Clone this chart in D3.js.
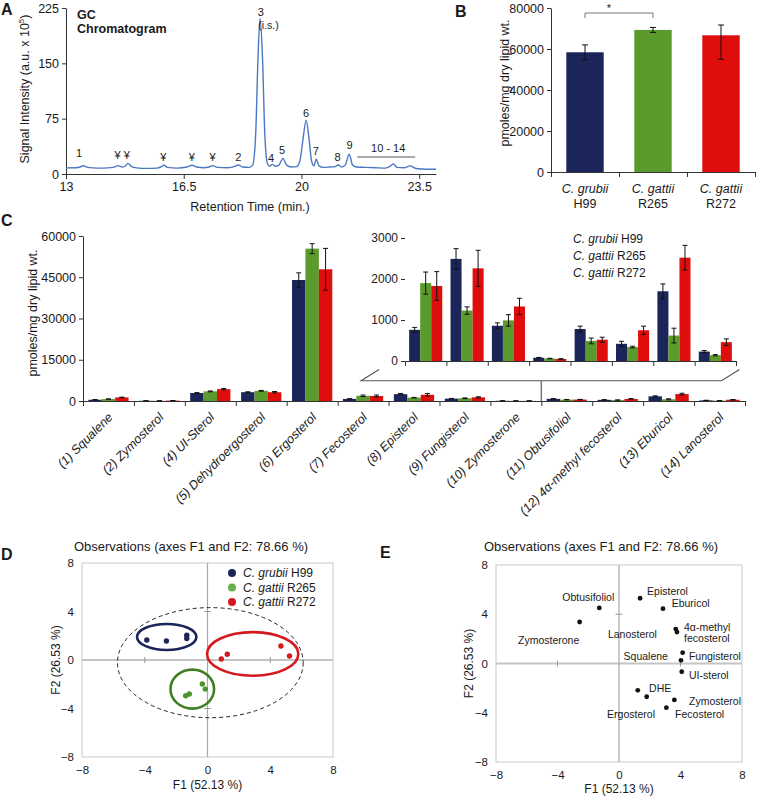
<!DOCTYPE html>
<html><head><meta charset="utf-8">
<script src="https://cdn.jsdelivr.net/npm/d3@7"></script>
<style>
body{margin:0;background:#fff}
svg{display:block;background:#fff}
text{font-family:"Liberation Sans",Arial,sans-serif;fill:#1a1a1a}
</style></head><body>
<svg id="chart" width="757" height="797"></svg>
<script>
// ================= DATA =================
// Panel A: GC chromatogram trace (retention time, min ; intensity, a.u. x 10^5)
const rtValues = [13.0,13.3,13.42,13.51,13.62,13.8,14.1,14.4,14.55,14.68,14.76,14.84,14.95,15.1,15.4,15.7,15.82,15.91,16.02,16.3,16.6,16.75,16.88,17.1,17.25,17.37,17.5,17.8,18.0,18.12,18.25,18.45,18.55,18.64,18.71,18.77,18.84,18.91,18.99,19.05,19.13,19.22,19.33,19.45,19.56,19.7,19.85,19.95,20.04,20.14,20.22,20.3,20.37,20.44,20.52,20.65,20.85,21.0,21.09,21.2,21.3,21.42,21.52,21.65,21.9,22.2,22.5,22.62,22.73,22.85,23.05,23.23,23.4,23.7,24.0];
const intensityValues = [8.3,8.5,9.5,11.2,9.3,8.3,8,9,11.3,9.5,10.5,14.4,10,8.3,7.6,8,9.5,11.8,9,8,9.5,11.8,9.5,8.5,9.5,11.3,9,8.5,10,12.2,9.5,9,12,55,160,211,160,55,14,10.5,13,10.5,12,21.2,12,9.5,10,17,45,73,50,18,11,20,11,9,9.5,10,12.2,9.5,12,26.7,12,9.5,9,8.5,8,10,13.5,9,8.5,11,7.5,6.5,6.5];
const peakLabels = ["1","¥","¥","¥","¥","¥","2","3","4","5","6","7","8","9"];
const peakLabelRt = [13.39,14.53,14.81,15.89,16.74,17.36,18.12,18.79,19.10,19.42,20.14,20.43,21.07,21.43];
const peakLabelY = [28,25,25,22.6,22.6,22.6,22.6,220,22.1,32.5,83,31.2,23.4,39.3];
const aXTicks = [13,16.5,20,23.5];
const aYTicks = [0,75,150,225];

// Panel B: total sterols
const strainGenus = ["C. grubii","C. gattii","C. gattii"];
const strainCode = ["H99","R265","R272"];
const totalValues = [58400,69300,66700];
const totalErrPlus = [3600,1200,5000];
const totalErrMinus = [3600,1200,11700];
const bYTicks = [0,20000,40000,60000,80000];

// Panel C: individual sterols
const sterolLabels = ["(1) Squalene","(2) Zymosterol","(4) UI-Sterol","(5) Dehydroergosterol","(6) Ergosterol","(7) Fecosterol","(8) Episterol","(9) Fungisterol","(10) Zymosterone","(11) Obtusifoliol","(12) 4α-methyl fecosterol","(13) Eburicol","(14) Lanosterol"];
const h99Values   = [450,80,2900,3200,44000,760,2490,860,80,780,420,1700,230];
const r265Values  = [700,60,3500,3700,55400,1900,1230,990,60,490,340,620,140];
const r272Values  = [1300,150,4300,3200,47900,1830,2260,1330,50,520,750,2520,460];
const h99Errors   = [60,10,150,150,2600,60,250,70,8,70,60,180,25];
const r265Errors  = [60,10,150,150,1800,270,90,140,6,70,20,180,15];
const r272Errors  = [100,20,250,250,7600,350,440,200,6,60,100,300,80];
const cYTicks = [0,15000,30000,45000,60000];
const insetFirst = 5; // inset shows (7) Fecosterol ... (14) Lanosterol
const insetYTicks = [0,1000,2000,3000];

// Panel D: PCA observations
const dH99X = [-3.87,-2.62,-1.32,-1.32];
const dH99Y = [1.65,1.57,2.04,1.77];
const dR265X = [-1.39,-1.16,-0.33,-0.14];
const dR265Y = [-2.95,-2.81,-1.98,-2.40];
const dR272X = [0.88,1.26,4.68,5.23];
const dR272Y = [0.08,0.47,1.16,0.33];
const ellipseCx = [-2.6,-0.97,2.88,0.18];
const ellipseCy = [1.9,-2.4,0.5,-0.22];
const ellipseRx = [1.89,1.39,2.91,5.92];
const ellipseRy = [1.07,1.61,1.8,4.54];
const pcaTicks = [-8,-4,0,4,8];

// Panel E: PCA variables
const varNames = ["Episterol","Eburicol","Obtusifoliol","Zymosterone","4α-methyl fecosterol","Lanosterol","Fungisterol","Squalene","UI-sterol","DHE","Ergosterol","Zymosterol","Fecosterol"];
const varX = [1.37,2.86,-1.28,-2.56,3.69,3.77,4.14,4.03,4.08,1.22,1.80,3.60,3.08];
const varY = [5.30,4.45,4.51,3.37,2.80,2.56,0.88,0.26,-0.67,-2.18,-2.70,-2.96,-3.59];

// ================= STYLE / LAYOUT =================
const FONT = "Liberation Sans, Arial, sans-serif";
const NAVY = "#1b2559", GREEN = "#5b9a2c", RED = "#e00d0d";
const svg = d3.select("#chart");

function styleAxis(g, size){
  g.attr("font-family", FONT).attr("font-size", size || 12);
  g.select(".domain").attr("stroke","#333");
  g.selectAll(".tick line").attr("stroke","#333");
  g.selectAll(".tick text").attr("fill","#1a1a1a");
}
function panelLetter(t,x,y){
  svg.append("text").attr("x",x).attr("y",y).attr("font-weight","bold").attr("font-size",16).text(t);
}

// ================= PANEL A =================
const xA = d3.scaleLinear().domain([13,24]).range([66,436]);
const yA = d3.scaleLinear().domain([0,225]).range([174,8]);
const gA = svg.append("g");
gA.append("g").attr("transform","translate(0,174)")
  .call(d3.axisBottom(xA).tickValues(aXTicks).tickSize(5).tickSizeOuter(0).tickFormat(d=>d))
  .call(g=>styleAxis(g,12.5));
gA.append("g").attr("transform","translate(66,0)")
  .call(d3.axisLeft(yA).tickValues(aYTicks).tickSize(4).tickSizeOuter(0))
  .call(g=>styleAxis(g,12.5));
gA.append("path").datum(rtValues.map((r,i)=>[r,intensityValues[i]]))
  .attr("d", d3.line().x(d=>xA(d[0])).y(d=>yA(d[1])).curve(d3.curveMonotoneX))
  .attr("fill","none").attr("stroke","#4a78c2").attr("stroke-width",1.4);
gA.selectAll(".pl").data(peakLabels).join("text")
  .attr("x",(d,i)=>xA(peakLabelRt[i])).attr("y",(d,i)=>yA(peakLabelY[i]))
  .attr("dy","0.35em").attr("text-anchor","middle").attr("font-size",11).attr("fill","#333").text(d=>d);
gA.append("text").attr("x",xA(19.02)).attr("y",yA(202)).attr("dy","0.35em").attr("text-anchor","middle")
  .attr("font-size",10.5).attr("fill","#333").text("(i.s.)");
gA.append("line").attr("x1",xA(21.66)).attr("x2",xA(23.38)).attr("y1",yA(23)).attr("y2",yA(23)).attr("stroke","#555").attr("stroke-width",1);
gA.append("text").attr("x",xA(22.58)).attr("y",yA(35)).attr("dy","0.35em").attr("text-anchor","middle")
  .attr("font-size",11).attr("fill","#333").text("10 - 14");
gA.append("text").attr("x",77).attr("y",19).attr("font-weight","bold").attr("font-size",12.5).text("GC");
gA.append("text").attr("x",77).attr("y",33).attr("font-weight","bold").attr("font-size",12.5).text("Chromatogram");
gA.append("text").attr("x",(66+436)/2-1).attr("y",211).attr("text-anchor","middle").attr("font-size",12.5).text("Retention Time (min.)");
const aYl = gA.append("text").attr("transform","translate(29,89) rotate(-90)").attr("text-anchor","middle").attr("font-size",12.5);
aYl.append("tspan").text("Signal Intensity (a.u. x 10");
aYl.append("tspan").attr("font-size",8).attr("dy",-5).text("5");
aYl.append("tspan").attr("dy",5).text(")");
panelLetter("A",1,15);

// ================= PANEL B =================
const xB = d3.scaleBand().domain(strainCode).range([551,755]).paddingInner(0.45).paddingOuter(0.225);
const xBidx = d3.scaleLinear().domain([0,3]).range([551,755]);
const yB = d3.scaleLinear().domain([0,80000]).range([172,8]);
const gB = svg.append("g");
gB.append("g").attr("transform","translate(0,172)")
  .call(d3.axisBottom(xBidx).tickValues([0,1,2,3]).tickSize(5).tickSizeOuter(0).tickFormat(""))
  .call(g=>styleAxis(g,12.5));
gB.append("g").attr("transform","translate(551,0)")
  .call(d3.axisLeft(yB).tickValues(bYTicks).tickSize(4).tickSizeOuter(0).tickFormat(d3.format("d")))
  .call(g=>styleAxis(g,12.5));
const bColors = [NAVY,GREEN,RED];
gB.selectAll(".bb").data(strainCode).join("rect")
  .attr("x",d=>xB(d)).attr("width",xB.bandwidth())
  .attr("y",(d,i)=>yB(totalValues[i])).attr("height",(d,i)=>yB(0)-yB(totalValues[i]))
  .attr("fill",(d,i)=>bColors[i]);
strainCode.forEach((d,i)=>{
  const cx = xB(d)+xB.bandwidth()/2, t=yB(totalValues[i]+totalErrPlus[i]), b=yB(totalValues[i]-totalErrMinus[i]);
  gB.append("line").attr("x1",cx).attr("x2",cx).attr("y1",t).attr("y2",b).attr("stroke","#111");
  gB.append("line").attr("x1",cx-3).attr("x2",cx+3).attr("y1",t).attr("y2",t).attr("stroke","#111");
  gB.append("line").attr("x1",cx-3).attr("x2",cx+3).attr("y1",b).attr("y2",b).attr("stroke","#111");
  gB.append("text").attr("x",cx).attr("y",193).attr("text-anchor","middle").attr("font-size",12.5).attr("font-style","italic").text(strainGenus[i]);
  gB.append("text").attr("x",cx).attr("y",208).attr("text-anchor","middle").attr("font-size",12.5).text(strainCode[i]);
});
{
  const x1 = xB("H99")+xB.bandwidth()/2, x2 = xB("R265")+xB.bandwidth()/2, y = 13;
  gB.append("path").attr("d",`M${x1},${y+5}V${y}H${x2}V${y+5}`).attr("fill","none").attr("stroke","#777");
  gB.append("text").attr("x",x1+(x2-x1)*0.35).attr("y",y-1).attr("text-anchor","middle").attr("font-size",11).attr("fill","#444").text("*");
}
gB.append("text").attr("transform","translate(509,83) rotate(-90)").attr("text-anchor","middle").attr("font-size",12.5).text("pmoles/mg dry lipid wt.");
panelLetter("B",455,17);

// ================= PANEL C =================
const gC = svg.append("g");
const cSeries = [h99Values,r265Values,r272Values];
const cErrs = [h99Errors,r265Errors,r272Errors];
const xC = d3.scaleBand().domain(sterolLabels).range([83,745]).paddingInner(0.21).paddingOuter(0.105);
const xCidx = d3.scaleLinear().domain([0,sterolLabels.length]).range([83,745]);
const xCsub = d3.scaleBand().domain([0,1,2]).range([0,xC.bandwidth()]);
const yC = d3.scaleLinear().domain([0,60000]).range([401,236]);
gC.append("g").attr("transform","translate(0,401)")
  .call(d3.axisBottom(xCidx).tickValues(d3.range(sterolLabels.length+1)).tickSize(5).tickSizeOuter(0).tickFormat(""))
  .call(g=>styleAxis(g,12.5));
gC.append("g").attr("transform","translate(83,0)")
  .call(d3.axisLeft(yC).tickValues(cYTicks).tickSize(4).tickSizeOuter(0).tickFormat(d3.format("d")))
  .call(g=>styleAxis(g,12.5));
function drawGroupedBars(g, cats, xs, sub, ys, offset, capW){
  cats.forEach((c,ci)=>{
    const k = ci+offset;
    [0,1,2].forEach(s=>{
      const v = cSeries[s][k], e = cErrs[s][k];
      const x = xs(c)+sub(s);
      g.append("rect").attr("x",x).attr("width",sub.bandwidth()).attr("y",ys(v)).attr("height",ys(0)-ys(v)).attr("fill",bColors[s]);
      const cx = x+sub.bandwidth()/2, t=ys(v+e), b=ys(Math.max(0,v-e));
      g.append("line").attr("x1",cx).attr("x2",cx).attr("y1",t).attr("y2",b).attr("stroke","#111");
      g.append("line").attr("x1",cx-capW).attr("x2",cx+capW).attr("y1",t).attr("y2",t).attr("stroke","#111");
      g.append("line").attr("x1",cx-capW).attr("x2",cx+capW).attr("y1",b).attr("y2",b).attr("stroke","#111");
    });
  });
}
drawGroupedBars(gC, sterolLabels, xC, xCsub, yC, 0, 2.5);
gC.selectAll(".cl").data(sterolLabels).join("text")
  .attr("transform",d=>`translate(${xC(d)+xC.bandwidth()/2+5},${418}) rotate(-45)`)
  .attr("text-anchor","end").attr("font-size",12.5).attr("font-style","italic").text(d=>d);
gC.append("text").attr("transform","translate(37,313) rotate(-90)").attr("text-anchor","middle").attr("font-size",12.5).text("pmoles/mg dry lipid wt.");
panelLetter("C",1,226);

// inset
const insetCats = sterolLabels.slice(insetFirst);
const xI = d3.scaleBand().domain(insetCats).range([405,736]).paddingInner(0.2).paddingOuter(0.1);
const xIidx = d3.scaleLinear().domain([0,insetCats.length]).range([405,736]);
const xIsub = d3.scaleBand().domain([0,1,2]).range([0,xI.bandwidth()]);
const yI = d3.scaleLinear().domain([0,3000]).range([361,238]);
gC.append("g").attr("transform","translate(0,361)")
  .call(d3.axisBottom(xIidx).tickValues(d3.range(insetCats.length+1)).tickSize(5).tickSizeOuter(0).tickFormat(""))
  .call(g=>styleAxis(g,12));
gC.append("g").attr("transform","translate(405,0)")
  .call(d3.axisLeft(yI).tickValues(insetYTicks).tickSize(4).tickSizeOuter(0).tickFormat(d3.format("d")))
  .call(g=>styleAxis(g,12))
  .call(g=>g.select(".domain").remove());
drawGroupedBars(gC, insetCats, xI, xIsub, yI, insetFirst, 2.5);
[0,1,2].forEach(s=>{
  const t = gC.append("text").attr("x",573).attr("y",243+s*17).attr("font-size",12);
  t.append("tspan").attr("font-style","italic").text(strainGenus[s]);
  t.append("tspan").text(" "+strainCode[s]);
});
// zoom connector
{
  const a = xC(sterolLabels[insetFirst])+xC.bandwidth()/2-2;
  const b = xC(sterolLabels[sterolLabels.length-1])+xC.bandwidth()/2+2;
  const yb = 380.7, yt = yI(0)+8.5;
  const mid = xCidx((insetFirst+sterolLabels.length)/2);
  gC.append("path").attr("d",`M${a+18},${yt}L${a},${yb}H${b}L${b+18},${yt}`).attr("fill","none").attr("stroke","#555").attr("stroke-width",1.1);
  gC.append("line").attr("x1",mid).attr("x2",mid).attr("y1",yb).attr("y2",yC(0)).attr("stroke","#777").attr("stroke-width",1.5);
}

// ================= PANEL D =================
const gD = svg.append("g");
const xD = d3.scaleLinear().domain([-8,8]).range([82,333]);
const yD = d3.scaleLinear().domain([-8,8]).range([757,563]);
function pcaFrame(g, xs, ys, titleX, xlabY, ylabX){
  g.append("rect").attr("x",xs(-8)).attr("y",ys(8)).attr("width",xs(8)-xs(-8)).attr("height",ys(-8)-ys(8))
    .attr("fill","none").attr("stroke","#c8c8c8");
  g.append("line").attr("x1",xs(-8)).attr("x2",xs(8)).attr("y1",ys(0)).attr("y2",ys(0)).attr("stroke","#c4c4c4").attr("stroke-width",2);
  g.append("line").attr("x1",xs(0)).attr("x2",xs(0)).attr("y1",ys(-8)).attr("y2",ys(8)).attr("stroke","#a8a8a8").attr("stroke-width",1.2);
  [-4,4].forEach(t=>{
    g.append("line").attr("x1",xs(t)).attr("x2",xs(t)).attr("y1",ys(0)-3).attr("y2",ys(0)+3).attr("stroke","#999");
    g.append("line").attr("x1",xs(0)-3.5).attr("x2",xs(0)+3.5).attr("y1",ys(t)).attr("y2",ys(t)).attr("stroke","#999");
  });
  g.append("g").attr("transform",`translate(0,${ys(-8)})`)
    .call(d3.axisBottom(xs).tickValues(pcaTicks).tickSize(0).tickPadding(9).tickFormat(d3.format("d")))
    .call(a=>{styleAxis(a,11.5);a.select(".domain").remove();});
  g.append("g").attr("transform",`translate(${xs(-8)},0)`)
    .call(d3.axisLeft(ys).tickValues(pcaTicks).tickSize(0).tickPadding(8).tickFormat(d3.format("d")))
    .call(a=>{styleAxis(a,11.5);a.select(".domain").remove();});
  g.append("text").attr("x",titleX).attr("y",551).attr("text-anchor","middle").attr("font-size",13).text("Observations (axes F1 and F2: 78.66 %)");
  g.append("text").attr("x",xs(0)).attr("y",xlabY).attr("text-anchor","middle").attr("font-size",12).text("F1 (52.13 %)");
  g.append("text").attr("transform",`translate(${ylabX},${ys(0)}) rotate(-90)`).attr("text-anchor","middle").attr("font-size",12).text("F2 (26.53 %)");
}
pcaFrame(gD, xD, yD, 191, 789, 60);
const ellColors = [NAVY,"#3f7f24","#d41a1f"];
ellipseCx.forEach((c,i)=>{
  const e = gD.append("ellipse").attr("cx",xD(c)).attr("cy",yD(ellipseCy[i]))
    .attr("rx",xD(ellipseRx[i])-xD(0)).attr("ry",yD(0)-yD(ellipseRy[i])).attr("fill","none");
  if(i<3) e.attr("stroke",ellColors[i]).attr("stroke-width",2.6);
  else e.attr("stroke","#222").attr("stroke-width",1).attr("stroke-dasharray","4,3");
});
const ptColors = [NAVY,"#4d952a","#d41a1f"];
[[dH99X,dH99Y],[dR265X,dR265Y],[dR272X,dR272Y]].forEach(([xs,ys],s)=>{
  xs.forEach((x,i)=>gD.append("circle").attr("cx",xD(x)).attr("cy",yD(ys[i])).attr("r",2.7).attr("fill",ptColors[s]));
});
const legColors = [NAVY,"#6ab04c","#d41a1f"];
[0,1,2].forEach(s=>{
  const y = 573 + s*14.5;
  gD.append("circle").attr("cx",232).attr("cy",y).attr("r",4).attr("fill",legColors[s]);
  const t = gD.append("text").attr("x",243).attr("y",y).attr("dy","0.35em").attr("font-size",12);
  t.append("tspan").attr("font-style","italic").text(strainGenus[s]);
  t.append("tspan").text(" "+strainCode[s]);
});
panelLetter("D",1,560);

// ================= PANEL E =================
const gE = svg.append("g");
const xE = d3.scaleLinear().domain([-8,8]).range([496,742]);
const yE = d3.scaleLinear().domain([-8,8]).range([762,565]);
pcaFrame(gE, xE, yE, 601, 793, 473);
gE.selectAll(".vp").data(varNames).join("circle")
  .attr("cx",(d,i)=>xE(varX[i])).attr("cy",(d,i)=>yE(varY[i])).attr("r",2.4).attr("fill","#111");
// label placement relative to each point (dx, dy px, anchor)
const eLabelDx = [7,8.7,-11,-31,8.3,-20,6.3,-13,7.3,11.3,8.3,14.7,8.7];
const eLabelDy = [-6.6,-5.7,-11,18,-1.3,2.7,4,-3.6,3.3,-2.3,17.3,1,6.3];
const eLabelAnchor = ["start","start","middle","middle","start","end","start","end","start","start","end","start","start"];
varNames.forEach((n,i)=>{
  const t = gE.append("text").attr("x",xE(varX[i])+eLabelDx[i]).attr("y",yE(varY[i])+eLabelDy[i])
    .attr("dy","0.35em").attr("text-anchor",eLabelAnchor[i]).attr("font-size",10.5).attr("fill","#222");
  if(n==="4α-methyl fecosterol"){
    t.append("tspan").text("4α-methyl");
    t.append("tspan").attr("x",xE(varX[i])+eLabelDx[i]).attr("dy","1.0em").text("fecosterol");
  } else t.text(n);
});
panelLetter("E",380,558);
</script></body></html>
